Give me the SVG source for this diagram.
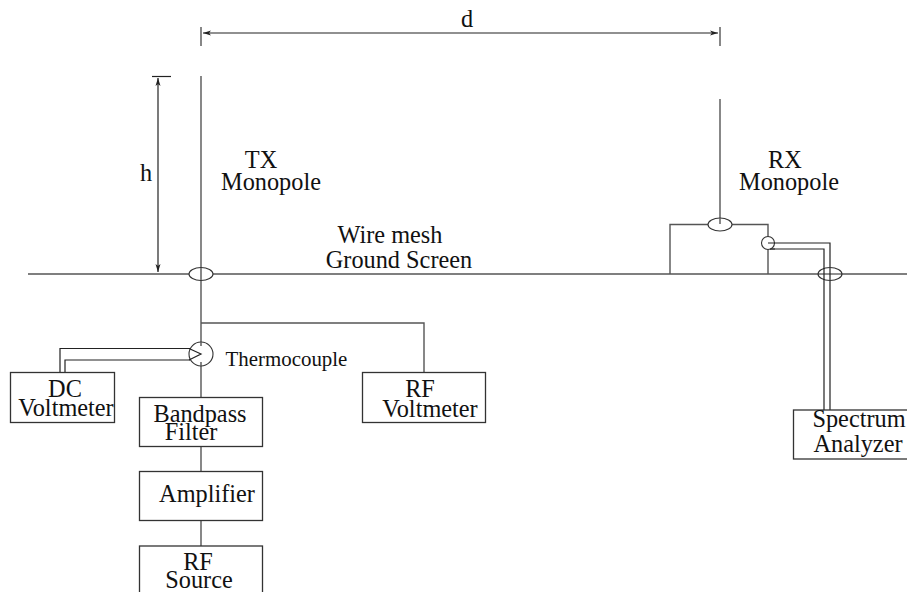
<svg xmlns="http://www.w3.org/2000/svg" width="907" height="592" viewBox="0 0 907 592">
<defs>
<marker id="a" markerWidth="9" markerHeight="6" refX="8" refY="3" orient="auto-start-reverse" markerUnits="userSpaceOnUse"><path d="M0 0.500L8 3L0 5.500L2 3Z" fill="#222"/></marker>
</defs>
<style>
.l{fill:none;stroke:#555;stroke-width:1.4}
.k{fill:none;stroke:#222;stroke-width:1.2}
.b{fill:#fff;stroke:#333;stroke-width:1.3}
.e{fill:#fff;stroke:#333;stroke-width:1.1}
text{font-family:"Liberation Serif",serif;font-size:24.300px;fill:#111;text-anchor:middle}
</style>
<rect width="907" height="592" fill="#fff"/>
<g id="connectors">
<path class="l" d="M28 274H907"/>
<path class="l" d="M201 76V546"/>
<path class="l" d="M201 323H424V372"/>
<path class="l" d="M720 99V224"/>
<path class="l" d="M670 274V224.500H768V274"/>
<path class="k" d="M60 372V348.500H190M65 372V360H190"/>
<path class="k" d="M768 243H830V410M770 249H824V410"/>
<path class="l" d="M201 27V46M720 27V46"/>
<path class="k" d="M203 33H718" marker-start="url(#a)" marker-end="url(#a)"/>
<path class="k" d="M152 76.500H171"/>
<path class="k" d="M158 78V272" marker-start="url(#a)" marker-end="url(#a)"/>
</g>
<g id="tx-feed"><ellipse class="e" cx="201" cy="274" rx="12" ry="6.500"/><path class="l" d="M201 268V280"/></g>
<g id="rx-feed"><ellipse class="e" cx="720" cy="224.500" rx="12" ry="6.500"/><path class="l" d="M720 218V224"/></g>
<g id="ground-feed"><ellipse class="e" cx="830" cy="274" rx="12" ry="6.500"/><path class="k" d="M824 268V280M830 268V280M818 274H842"/></g>
<g id="rx-thermocouple"><circle class="e" cx="768" cy="243" r="6.500"/><path class="k" d="M768 243H775M770 249H775"/></g>
<g id="thermocouple"><circle class="e" cx="201" cy="354" r="12"/><path class="k" d="M189 348.500L201 354L189 360"/><path class="l" d="M201 342V346M201 362V366"/><text x="286.500" y="366" style="font-size:20.900px">Thermocouple</text></g>
<g id="dc-voltmeter"><rect class="b" x="10.500" y="372.500" width="104" height="50"/><text x="65" y="397">DC</text><text x="66" y="416">Voltmeter</text></g>
<g id="bandpass"><rect class="b" x="139.500" y="397.500" width="123" height="49"/><text x="200" y="422">Bandpass</text><text x="191" y="440">Filter</text></g>
<g id="amplifier"><rect class="b" x="139.500" y="471.500" width="123" height="49"/><text x="207" y="502">Amplifier</text></g>
<g id="rf-source"><rect class="b" x="139.500" y="546" width="123" height="50"/><text x="198" y="570">RF</text><text x="199" y="588">Source</text></g>
<g id="rf-voltmeter"><rect class="b" x="362.500" y="372.500" width="123" height="50"/><text x="420" y="397">RF</text><text x="430" y="417">Voltmeter</text></g>
<g id="spectrum"><rect class="b" x="793.500" y="410" width="125" height="49"/><text x="859" y="427">Spectrum</text><text x="858" y="452">Analyzer</text></g>
<g id="labels">
<text x="467" y="27">d</text><text x="146" y="181">h</text>
<text x="261" y="168">TX</text><text x="271" y="190">Monopole</text>
<text x="785" y="168">RX</text><text x="789" y="190">Monopole</text>
<text x="390" y="243">Wire mesh</text><text x="399" y="268">Ground Screen</text>
</g>
</svg>
